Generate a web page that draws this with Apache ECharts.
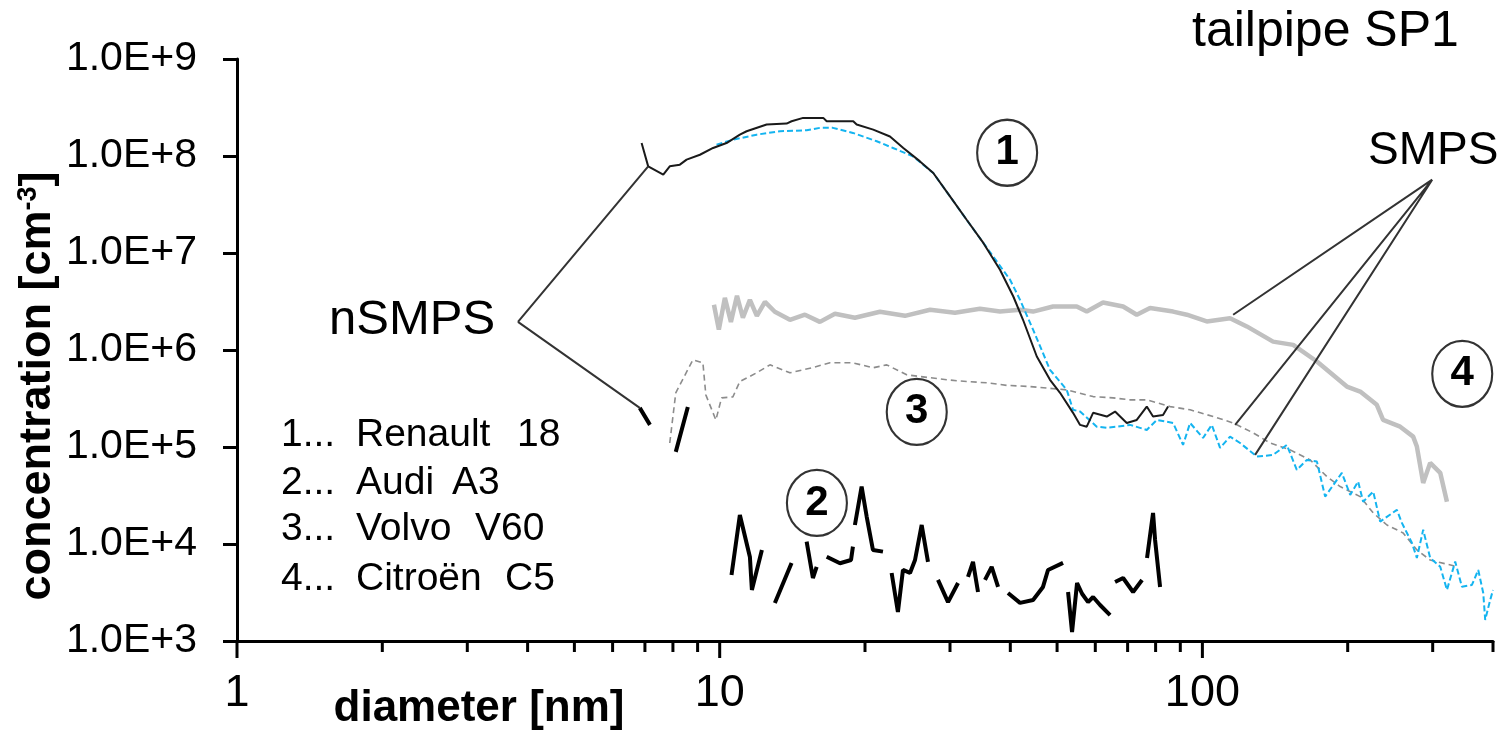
<!DOCTYPE html>
<html><head><meta charset="utf-8">
<script src="https://cdn.jsdelivr.net/npm/echarts@6/dist/echarts.min.js"></script>
<style>html,body{margin:0;padding:0;background:#fff}#c{width:1501px;height:731px}</style>
</head><body><div id="c"></div>
<script>
// ---- axis ranges & ticks ----
const xMin = 1, xMax = 400, yMin = 1e3, yMax = 1e9;
const xMajorTicks = [1, 10, 100];
const xMinorTicks = [2,3,4,5,6,7,8,9,20,30,40,50,60,70,80,90,200,300,400];

// ---- series values [diameter nm, concentration cm^-3] ----
const renaultNSMPS = [[6.89,1.36e8],[7.11,7.82e7],[7.64,6.42e7],[7.88,7.82e7],[8.27,8.14e7],[8.54,9.17e7],[9.10,1.03e8],[9.69,1.21e8],[10.33,1.36e8],[11.01,1.66e8],[11.37,1.80e8],[12.51,2.11e8],[13.76,2.16e8],[14.09,2.28e8],[14.89,2.47e8],[16.39,2.47e8],[16.66,2.28e8],[18.91,2.28e8],[19.22,2.11e8],[20.80,1.87e8],[22.53,1.59e8],[24.01,1.21e8],[26.00,8.80e7],[27.70,6.68e7],[30.00,3.83e7],[32.48,2.20e7],[35.17,1.27e7],[38.08,6.72e6],[40.58,3.56e6],[42.50,2.05e6],[45.39,8.57e5],[48.34,4.93e5],[50.71,3.62e5],[53.95,2.25e5],[55.80,1.69e5],[57.60,1.62e5],[59.37,2.25e5],[63.38,2.06e5],[65.93,2.32e5],[69.72,1.77e5],[73.12,1.90e5],[76.70,2.61e5],[79.03,2.06e5],[82.89,2.14e5],[84.90,2.61e5]];
const renaultSMPS = [[9.85,1.31e8],[10.65,1.47e8],[11.93,1.66e8],[13.33,1.80e8],[15.14,1.84e8],[16.13,1.95e8],[17.16,1.95e8],[18.88,1.73e8],[21.15,1.42e8],[22.86,1.21e8],[25.14,9.91e7],[27.70,6.68e7],[30.00,3.83e7],[32.48,2.20e7],[35.17,1.27e7],[39.95,5.30e6],[41.90,3.29e6],[44.59,1.62e6],[48.34,6.25e5],[52.36,3.88e5],[53.95,2.42e5],[55.80,2.32e5],[60.41,1.62e5],[63.38,1.58e5],[66.46,1.62e5],[70.84,1.69e5],[76.70,1.50e5],[80.44,1.90e5],[86.97,1.77e5],[91.2,1.05e5],[94.3,1.77e5],[100.3,1.24e5],[104.6,1.69e5],[108.8,9.79e4],[114.1,1.28e5],[119.7,1.10e5],[129.7,7.96e4],[140.1,8.29e4],[149.6,1.05e5],[156.9,5.81e4],[164.6,7.36e4],[172.7,7.07e4],[179.6,3.08e4],[194.5,5.41e4],[202.4,3.21e4],[210.2,4.40e4],[215.3,2.73e4],[225.9,3.47e4],[233.5,1.70e4],[252.9,2.25e4],[259.0,1.65e4],[271.6,1.03e4],[278.2,7.18e3],[286.7,1.40e4],[296.4,7.18e3],[311.0,5.84e3],[321.1,3.36e3],[334.0,6.58e3],[344.9,3.63e3],[361.7,3.78e3],[372.8,5.40e3],[381.8,3.13e3],[385.4,1.65e3],[394.7,2.65e3],[400,3.36e3]];
const volvoSMPS = [[7.88,1.10e5],[8.11,3.62e5],[8.80,7.92e5],[9.23,7.38e5],[9.36,3.45e5],[9.82,1.90e5],[10.09,3.21e5],[10.65,3.29e5],[11.01,4.73e5],[11.93,5.82e5],[12.71,7.03e5],[13.98,5.82e5],[15.50,6.55e5],[16.92,7.38e5],[18.88,7.38e5],[20.77,6.55e5],[22.18,7.03e5],[24.40,5.55e5],[29.53,4.93e5],[32.48,4.73e5],[35.75,4.59e5],[39.32,4.32e5],[43.96,4.20e5],[52.36,3.88e5],[59.37,3.31e5],[65.29,3.21e5],[70.84,3.06e5],[76.70,3.06e5],[85.73,2.61e5],[94.3,2.42e5],[105.3,2.06e5],[115.8,1.77e5],[127.4,1.40e5],[138.1,1.10e5],[152.0,9.34e4],[167.2,7.36e4],[181.1,4.95e4],[192.9,3.91e4],[212.3,3.08e4],[225.9,2.09e4],[241.2,1.57e4],[260.6,1.30e4],[278.2,8.68e3],[296.4,6.84e3],[336.7,5.84e3]];
const volvoNSMPS = [[6.83,2.53e5],[7.17,1.69e5],null,[8.11,8.91e4],[8.59,2.59e5]];
const citroenSMPS = [[9.73,2.93e6],[9.96,1.62e6],[10.25,3.45e6],[10.55,1.95e6],[10.86,3.62e6],[11.17,2.15e6],[11.55,3.29e6],[11.94,2.25e6],[12.41,3.14e6],[13.01,2.48e6],[13.98,2.05e6],[15.02,2.31e6],[16.13,1.95e6],[17.33,2.36e6],[19.06,2.15e6],[21.48,2.48e6],[24.20,2.25e6],[27.28,2.60e6],[30.72,2.42e6],[34.61,2.66e6],[38.08,2.49e6],[41.90,2.60e6],[44.59,2.49e6],[49.04,2.81e6],[54.92,2.81e6],[57.60,2.49e6],[62.26,3.09e6],[68.51,2.81e6],[73.12,2.31e6],[77.91,2.71e6],[86.97,2.49e6],[92.84,2.31e6],[102.1,1.97e6],[114.1,2.13e6],[123.6,1.75e6],[140.1,1.22e6],[154.2,1.13e6],[172.7,7.61e5],[199.2,4.20e5],[212.3,3.73e5],[229.8,2.72e5],[236.8,1.90e5],[256.9,1.62e5],[273.3,1.28e5],[278.2,1.01e5],[286.7,4.26e4],[296.4,6.86e4],[311.0,5.41e4],[321.1,2.73e4]];
const audiNSMPS = [[10.58,4.79e3],[11.01,1.99e4],[11.55,7.35e3],[11.66,3.36e3],[12.23,8.68e3],null,
 [13.01,2.47e3],[14.09,6.38e3],null,
 [15.14,1.06e4],[15.60,4.46e3],[15.88,5.80e3],null,
 [16.66,7.40e3],[17.75,6.33e3],[18.71,6.84e3],[18.88,9.39e3],null,
 [19.06,1.57e4],[19.68,3.91e4],[20.16,1.92e4],[20.77,8.68e3],[21.79,8.34e3],null,
 [22.71,5.03e3],[23.40,1.99e3],[23.97,5.40e3],[24.79,5.03e3],[25.39,6.84e3],[26.21,1.57e4],[27.01,6.53e3],null,
 [28.33,4.26e3],[29.72,2.52e3],[31.17,3.96e3],null,
 [32.69,4.57e3],[33.48,6.53e3],[34.29,3.20e3],null,
 [35.45,4.26e3],[36.60,5.80e3],[37.73,3.61e3],null,
 [39.56,3.13e3],[41.90,2.47e3],[44.59,2.65e3],[46.75,3.61e3],[47.88,5.40e3],[51.44,6.38e3],null,
 [52.69,3.20e3],[53.70,1.24e3],[55.00,3.96e3],[56.33,3.07e3],[57.97,2.52e3],[59.37,2.84e3],[61.38,2.35e3],[64.38,1.85e3],null,
 [65.93,4.06e3],[68.51,4.46e3],[71.85,3.20e3],[74.99,4.26e3],null,
 [76.79,7.18e3],[79.03,2.09e4],[79.80,1.10e4],[81.72,3.61e3]];

// ---- annotations (data coordinates) ----
const nsmpsCallout = [[3.82,1.95e6],[7.11,7.82e7],null,[3.82,1.95e6],[6.83,2.53e5]];
const smpsCallout = [[299.3,5.70e7],[115.8,2.31e6],null,[299.3,5.70e7],[116.9,1.69e5],null,[299.3,5.70e7],[128.6,8.29e4]];
const circleMarks = [{name:'1', value:[39.4,1.08e8]},{name:'2', value:[15.9,2.65e4]},{name:'3', value:[25.6,2.30e5]},{name:'4', value:[345.4,5.68e5]}];

// ---- texts ----
const titleText = 'tailpipe SP1';
const xTitle = 'diameter [nm]';
const legendRows = [['1...','Renault','18'],['2...','Audi','A3'],['3...','Volvo','V60'],['4...','Citroën','C5']];

const F = '"Liberation Sans", Arial, sans-serif';
const gap = a => a.map(p => p ? p : ['-','-']);

const chart = echarts.init(document.getElementById('c'), null, {renderer:'canvas'});

function lineSeries(name, data, color, width, type, z){
  return {name, type:'line', data: gap(data), showSymbol:false, symbol:'none', connectNulls:false,
    lineStyle:{color, width, type}, z: z||2, silent:true, animation:false, clip:true};
}

const legendGraphics = [];
const rowY = [435, 483, 529, 579];
const col3X = [517, 452, 475, 505];
legendRows.forEach((r,i)=>{
  legendGraphics.push({type:'text', x:281, y:rowY[i], silent:true, style:{text:r[0], fontSize:39, fontFamily:F, fill:'#000', align:'left', verticalAlign:'middle'}});
  legendGraphics.push({type:'text', x:356, y:rowY[i], silent:true, style:{text:r[1], fontSize:39, fontFamily:F, fill:'#000', align:'left', verticalAlign:'middle'}});
  legendGraphics.push({type:'text', x:col3X[i], y:rowY[i], silent:true, style:{text:r[2], fontSize:39, fontFamily:F, fill:'#000', align:'left', verticalAlign:'middle'}});
});

const option = {
  animation:false,
  backgroundColor:'#fff',
  grid:{left:237, right:8, top:59, bottom:90, containLabel:false, outerBoundsMode:'none'},
  xAxis:{type:'log', logBase:10, min:xMin, max:xMax,
    axisLine:{show:true, onZero:false, lineStyle:{color:'#000', width:3}},
    axisTick:{show:false}, minorTick:{show:false}, splitLine:{show:false},
    axisLabel:{show:true, margin:30, fontSize:45, fontFamily:F, color:'#000', showMaxLabel:false,
      formatter:function(v){ const e=Math.log10(v); return Math.abs(e-Math.round(e))<1e-6 ? String(Math.round(v)) : ''; }}
  },
  yAxis:{type:'log', logBase:10, min:yMin, max:yMax,
    axisLine:{show:true, onZero:false, lineStyle:{color:'#000', width:3}},
    axisTick:{show:true, length:14, inside:false, lineStyle:{color:'#000', width:3}},
    splitLine:{show:false}, minorTick:{show:false},
    axisLabel:{margin:40, fontSize:41, fontFamily:F, color:'#000',
      formatter:function(v){ return '1.0E+' + Math.round(Math.log10(v)); }}
  },
  series:[
    lineSeries('Citroën C5 SMPS', citroenSMPS, '#c0c0c0', 4.5, 'solid', 2),
    lineSeries('Volvo V60 SMPS', volvoSMPS, '#8c8c8c', 1.6, [6,4], 3),
    lineSeries('Renault 18 SMPS', renaultSMPS, '#14b4f0', 2, [6,3], 4),
    lineSeries('Renault 18 nSMPS', renaultNSMPS, '#1a1a1a', 2, 'solid', 5),
    lineSeries('Audi A3 nSMPS', audiNSMPS, '#000', 4, 'solid', 5),
    lineSeries('Volvo V60 nSMPS', volvoNSMPS, '#000', 4, 'solid', 5),
    lineSeries('nSMPS callout', nsmpsCallout, '#333', 2, 'solid', 6),
    lineSeries('SMPS callout', smpsCallout, '#333', 2, 'solid', 6),
    {type:'scatter', name:'markers', data:circleMarks, symbol:'circle', symbolSize:[60,66], silent:true, z:7,
      itemStyle:{color:'rgba(255,255,255,0)', borderColor:'#333', borderWidth:2.2, opacity:1},
      label:{show:true, position:'inside', formatter:'{b}', fontSize:42, fontWeight:'bold', fontFamily:F, color:'#000'}},
    {type:'custom', name:'xticks', coordinateSystem:'cartesian2d', silent:true, clip:false, z:8,
      data: xMajorTicks.concat(xMinorTicks).map(v=>[v, yMin]),
      renderItem:function(params, api){
        const v = api.value(0);
        const p = api.coord([v, yMin]);
        const major = xMajorTicks.indexOf(v) >= 0;
        return {type:'line', shape:{x1:p[0], y1:p[1], x2:p[0], y2:p[1] + (major?17:11)}, style:{stroke:'#000', lineWidth:3}};
      }}
  ],
  graphic: [
    {type:'text', x:1192, y:32, silent:true, style:{text:titleText, fontSize:50, fontFamily:F, fill:'#000', align:'left', verticalAlign:'middle'}},
    {type:'text', x:1368, y:151, silent:true, style:{text:'SMPS', fontSize:46, fontFamily:F, fill:'#000', align:'left', verticalAlign:'middle'}},
    {type:'text', x:329, y:320, silent:true, style:{text:'nSMPS', fontSize:49, fontFamily:F, fill:'#000', align:'left', verticalAlign:'middle'}},
    {type:'text', x:479, y:709, silent:true, style:{text:xTitle, fontSize:44, fontWeight:'bold', fontFamily:F, fill:'#000', align:'center', verticalAlign:'middle'}},
    {type:'text', x:38, y:386, rotation:Math.PI/2, silent:true, style:{text:'{a|concentration [cm}{b|-3}{a|]}', align:'center', verticalAlign:'middle',
      rich:{a:{fontSize:45, fontWeight:'bold', fontFamily:F, fill:'#000', color:'#000'},
            b:{fontSize:27, fontWeight:'bold', fontFamily:F, fill:'#000', color:'#000', verticalAlign:'top'}}}}
  ].concat(legendGraphics)
};
chart.setOption(option);
</script></body></html>
